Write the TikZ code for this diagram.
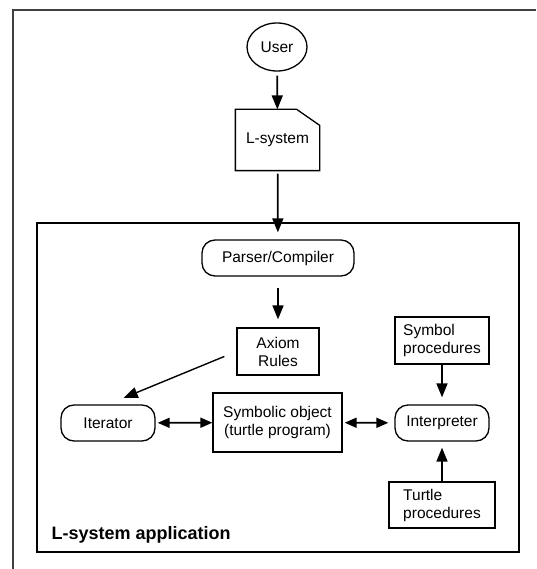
\documentclass[tikz,border=0pt]{standalone}
\usepackage{fontspec}
\setmainfont{Liberation Sans}
\usetikzlibrary{arrows.meta,shapes.geometric}

\begin{document}
\begin{tikzpicture}[x=1pt, y=-1pt, line width=1.3pt, align=center,
		font=\fontsize{15.5}{18}\selectfont,
		box/.style={draw, rectangle, inner sep=0pt},
		rbox/.style={draw, rectangle, rounded corners=13pt, inner sep=0pt},
		arr/.style={-{Triangle[length=14pt,width=11pt]}, line width=1.7pt},
		dblarr/.style={{Triangle[length=12pt,width=10pt]}-{Triangle[length=12pt,width=10pt]}, line width=1.7pt}]
		\useasboundingbox (0,0) rectangle (536,569);
		\draw[black!75, line width=1.6pt] (536,10) -- (13,10) -- (13,569);
		
		\node[draw, ellipse, inner sep=0pt, minimum width=60pt, minimum height=48pt] (user) at (277,47) {User};
		\node[minimum width=83pt, minimum height=60pt, inner sep=0pt] (lsys) at (277.5,140) {L-system};
		\draw (lsys.south west) -- (lsys.north west) -- ([xshift=-23pt]lsys.north east) -- ([yshift=-16pt]lsys.north east) -- (lsys.south east) -- cycle;
		
		\node[box, minimum width=482pt, minimum height=329pt] (app) at (278,387.5) {};
		\node[anchor=west, inner sep=0pt, font=\fontsize{18}{21}\selectfont\bfseries] (applabel) at (51,535) {L-system application};
		
		\node[rbox, minimum width=152pt, minimum height=36pt] (parser) at (278,258) {Parser/Compiler};
		\node[box, minimum width=82pt, minimum height=47pt] (axiom) at (278,351.5) {Axiom\\Rules};
		\node[box, align=left, minimum width=94pt, minimum height=47pt] (symproc) at (442,340.5) {Symbol\\procedures};
		\node[rbox, minimum width=94pt, minimum height=36pt] (iterator) at (108,423) {Iterator};
		\node[box, minimum width=129pt, minimum height=59pt] (symobj) at (277.5,422.5) {Symbolic object\\(turtle program)};
		\node[rbox, minimum width=94pt, minimum height=36pt] (interp) at (442,423) {Interpreter};
		\node[box, align=left, minimum width=106pt, minimum height=46pt] (turtproc) at (442,505) {Turtle\\procedures};
		
		\draw[arr, shorten <=4pt] (user) -- (lsys);
		\draw[arr, shorten <=3pt, shorten >=7pt] (lsys) -- (parser);
		\draw[arr, shorten <=11pt, shorten >=8pt] (parser) -- (axiom);
		\draw[arr, line width=1.4pt, shorten <=13pt, shorten >=17pt] (axiom.west) -- (iterator.north);
		\draw[arr, shorten >=7pt] (symproc) -- (interp);
		\draw[arr, shorten >=6pt] (turtproc) -- (interp);
		\draw[dblarr, shorten <=2pt] (iterator) -- (symobj);
		\draw[dblarr, shorten <=2pt, shorten >=6pt] (symobj) -- (interp);
		
	\end{tikzpicture}
\end{document}
